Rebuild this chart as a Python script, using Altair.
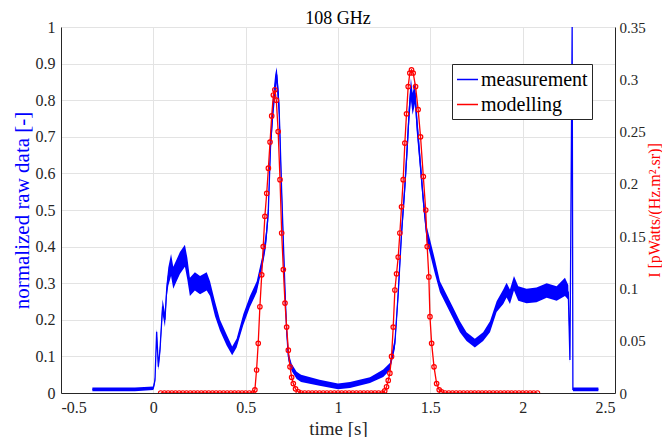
import altair as alt
import pandas as pd

FONT = "'Liberation Serif', 'Times New Roman', 'DejaVu Serif', serif"
BLUE = "#0000ff"
RED = "#ff0000"
INK = "#262626"

# ---- axis ticks ----
x_ticks = [-0.5, 0, 0.5, 1, 1.5, 2, 2.5]
left_ticks = [0, 0.1, 0.2, 0.3, 0.4, 0.5, 0.6, 0.7, 0.8, 0.9, 1]
right_ticks = [0, 0.05, 0.1, 0.15, 0.2, 0.25, 0.3, 0.35]

meas_t = [-0.33, -0.20, -0.10, 0.000, 0.009, 0.018, 0.027, 0.036, 0.050, 0.063,
          0.072, 0.081, 0.096, 0.108, 0.126, 0.144, 0.171, 0.184, 0.198, 0.225,
          0.253, 0.289, 0.307, 0.334, 0.361, 0.397, 0.427, 0.451, 0.487, 0.523,
          0.560, 0.595, 0.610, 0.622, 0.635, 0.650, 0.660, 0.668, 0.675, 0.680,
          0.686, 0.695, 0.705, 0.713, 0.722, 0.731, 0.749, 0.776, 0.800, 0.900,
          1.000, 1.065, 1.173, 1.245, 1.281, 1.308, 1.326, 1.344, 1.362, 1.375,
          1.386, 1.395, 1.404, 1.417, 1.426, 1.444, 1.462, 1.480, 1.498, 1.525,
          1.552, 1.588, 1.624, 1.660, 1.696, 1.741, 1.786, 1.823, 1.859, 1.895,
          1.913, 1.931, 1.953, 1.976, 2.021, 2.075, 2.130, 2.184, 2.229, 2.247,
          2.256, 2.261, 2.268, 2.272, 2.410]
meas_v = [0.010, 0.010, 0.010, 0.013, 0.035, 0.167, 0.072, 0.117, 0.236, 0.200,
          0.280, 0.318, 0.350, 0.315, 0.335, 0.355, 0.375, 0.340, 0.290, 0.305,
          0.295, 0.305, 0.285, 0.230, 0.185, 0.145, 0.115, 0.136, 0.200, 0.250,
          0.290, 0.370, 0.420, 0.490, 0.680, 0.790, 0.840, 0.870, 0.820, 0.790,
          0.700, 0.550, 0.400, 0.280, 0.170, 0.100, 0.070, 0.048, 0.040, 0.028,
          0.018, 0.022, 0.035, 0.054, 0.072, 0.136, 0.272, 0.436, 0.564, 0.673,
          0.773, 0.830, 0.790, 0.820, 0.746, 0.637, 0.527, 0.436, 0.400, 0.345,
          0.290, 0.254, 0.218, 0.181, 0.154, 0.136, 0.154, 0.181, 0.236, 0.263,
          0.281, 0.263, 0.300, 0.272, 0.265, 0.268, 0.280, 0.272, 0.290, 0.275,
          0.090, 0.464, 1.000, 0.010, 0.010]
# half-width of the visible noise band around each point
meas_noise = [0.005, 0.005, 0.005, 0.005, 0.008, 0.008, 0.010, 0.012, 0.020, 0.020,
              0.020, 0.025, 0.030, 0.030, 0.030, 0.030, 0.030, 0.030, 0.025, 0.025,
              0.025, 0.025, 0.020, 0.020, 0.015, 0.015, 0.012, 0.012, 0.015, 0.015,
              0.015, 0.015, 0.020, 0.020, 0.025, 0.030, 0.030, 0.020, 0.030, 0.030,
              0.030, 0.025, 0.020, 0.020, 0.015, 0.012, 0.010, 0.010, 0.010, 0.008,
              0.008, 0.008, 0.008, 0.010, 0.010, 0.015, 0.020, 0.020, 0.025, 0.030,
              0.030, 0.030, 0.030, 0.030, 0.030, 0.025, 0.020, 0.020, 0.020, 0.020,
              0.015, 0.015, 0.015, 0.015, 0.012, 0.012, 0.012, 0.015, 0.015, 0.020,
              0.020, 0.020, 0.020, 0.020, 0.020, 0.020, 0.020, 0.020, 0.025, 0.020,
              0.010, 0.010, 0.000, 0.005, 0.005]

# ---- modelling (I in pWatts/(Hz.m2.sr)) ----
flat1_t = [0.04, 0.06, 0.08, 0.10, 0.12, 0.14, 0.16, 0.18, 0.20, 0.22, 0.24, 0.26, 0.28,
           0.30, 0.32, 0.34, 0.36, 0.38, 0.40, 0.42, 0.44, 0.46, 0.48, 0.50, 0.52, 0.54]
peak1_t = [0.550, 0.559, 0.568, 0.577, 0.587, 0.595, 0.604, 0.614, 0.623, 0.632,
           0.641, 0.650, 0.658, 0.666, 0.676, 0.686, 0.695, 0.704, 0.713, 0.722,
           0.731, 0.740, 0.749, 0.758, 0.770, 0.785]
peak1_v = [0.003, 0.022, 0.0475, 0.0825, 0.113, 0.140, 0.169, 0.191, 0.215, 0.240,
           0.265, 0.285, 0.290, 0.280, 0.250, 0.204, 0.153, 0.118, 0.086, 0.063,
           0.041, 0.025, 0.015, 0.009, 0.004, 0.001]
flat2_t = [0.80, 0.82, 0.84, 0.86, 0.88, 0.90, 0.92, 0.94, 0.96, 0.98, 1.00, 1.02,
           1.04, 1.06, 1.08, 1.10, 1.12, 1.14, 1.16, 1.18, 1.20, 1.22, 1.24]
peak2_t = [1.253, 1.263, 1.272, 1.281, 1.290, 1.299, 1.308, 1.317, 1.326, 1.335,
           1.344, 1.353, 1.362, 1.371, 1.380, 1.389, 1.398, 1.407, 1.420, 1.434,
           1.447, 1.462, 1.475, 1.483, 1.492, 1.498, 1.507, 1.520, 1.534, 1.548,
           1.561]
peak2_v = [0.002, 0.006, 0.012, 0.019, 0.035, 0.063, 0.0985, 0.114, 0.130, 0.153,
           0.178, 0.204, 0.239, 0.267, 0.293, 0.306, 0.309, 0.306, 0.293, 0.271,
           0.245, 0.207, 0.175, 0.140, 0.111, 0.073, 0.0475, 0.025, 0.009, 0.003,
           0.001]
flat3_t = [1.58, 1.60, 1.62, 1.64, 1.66, 1.68, 1.70, 1.72, 1.74, 1.76, 1.78, 1.80, 1.82,
           1.84, 1.86, 1.88, 1.90, 1.92, 1.94, 1.96, 1.98, 2.00, 2.02, 2.04, 2.06, 2.08]

model_t = flat1_t + peak1_t + flat2_t + peak2_t + flat3_t
model_v = ([0.0] * len(flat1_t) + peak1_v + [0.0] * len(flat2_t) + peak2_v
           + [0.0] * len(flat3_t))

meas_df = pd.DataFrame({
    "t": meas_t,
    "v": meas_v,
    "lo": [v - n for v, n in zip(meas_v, meas_noise)],
    "hi": [v + n for v, n in zip(meas_v, meas_noise)],
    "series": ["measurement"] * len(meas_t),
})
model_df = pd.DataFrame({
    "t": model_t,
    "v": model_v,
    "series": ["modelling"] * len(model_t),
})

x_enc = alt.X(
    "t:Q",
    scale=alt.Scale(domain=[-0.5, 2.5], nice=False, zero=False),
    axis=alt.Axis(values=x_ticks, labelExpr="'' + datum.value", title="time [s]",
                  grid=True, labelFont=FONT, labelFontSize=16, labelColor=INK,
                  titleFont=FONT, titleFontSize=19, labelPadding=6, titlePadding=4),
)

left_scale = alt.Scale(domain=[0, 1], nice=False)
left_axis = alt.Axis(values=left_ticks, labelExpr="'' + datum.value",
                     title="normalized raw data [-]", titleColor=BLUE, orient="left",
                     grid=True, labelFont=FONT, labelFontSize=16, labelColor=INK,
                     titleFont=FONT, titleFontSize=21, labelPadding=6, titlePadding=3)

right_scale = alt.Scale(domain=[0, 0.35], nice=False)
right_axis = alt.Axis(values=right_ticks, labelExpr="'' + datum.value",
                      title="I [pWatts/(Hz.m\u00b2.sr)]", titleColor=RED, orient="right",
                      grid=False, labelFont=FONT, labelFontSize=15, labelColor=INK,
                      titleFont=FONT, titleFontSize=16, labelPadding=4, titlePadding=1,
                      titleAngle=270, titleBaseline="top")

color_enc = alt.Color(
    "series:N",
    scale=alt.Scale(domain=["measurement", "modelling"], range=[BLUE, RED]),
    legend=alt.Legend(title=None, orient="none", legendX=391, legendY=37,
                      symbolType="stroke", symbolSize=441, symbolStrokeWidth=1.5,
                      labelFont=FONT, labelFontSize=20, labelColor="#000000",
                      strokeColor=INK, fillColor="white", padding=4,
                      rowPadding=3, labelOffset=2, cornerRadius=0),
)

band = alt.Chart(meas_df).mark_area(color=BLUE, opacity=1, clip=True).encode(
    x=x_enc, y=alt.Y("lo:Q", scale=left_scale, axis=left_axis), y2="hi:Q")
mline = alt.Chart(meas_df).mark_line(strokeWidth=1.3, clip=True).encode(
    x=x_enc, y=alt.Y("v:Q", scale=left_scale, axis=left_axis), color=color_enc)

rline = alt.Chart(model_df).mark_line(strokeWidth=1.3, clip=True).encode(
    x=x_enc, y=alt.Y("v:Q", scale=right_scale, axis=right_axis), color=color_enc)
rpts = alt.Chart(model_df).mark_point(shape="circle", filled=False, size=20,
                                      strokeWidth=1.2, color=RED, opacity=1,
                                      clip=True).encode(
    x=x_enc, y=alt.Y("v:Q", scale=right_scale, axis=right_axis))

chart = (
    alt.layer(alt.layer(band, mline), alt.layer(rline, rpts))
    .resolve_scale(y="independent")
    .properties(
        width=554, height=366,
        title=alt.Title("108 GHz", font=FONT, fontSize=18, fontWeight="normal",
                        color="#000000", offset=4, anchor="middle", dy=13),
        padding={"left": 53, "top": 19, "right": 47, "bottom": 44},
        autosize="none",
    )
    .configure_view(stroke=None)
    .configure_axis(domainColor=INK, domainWidth=1, labelColor=INK,
                    labelFont=FONT, labelFontSize=16, titleFont=FONT,
                    titleFontWeight="normal", titleColor=INK, ticks=False,
                    gridColor="#e3e3e3", gridWidth=1)
)

chart.save("out.html", embed_options={"renderer": "svg", "actions": False})
